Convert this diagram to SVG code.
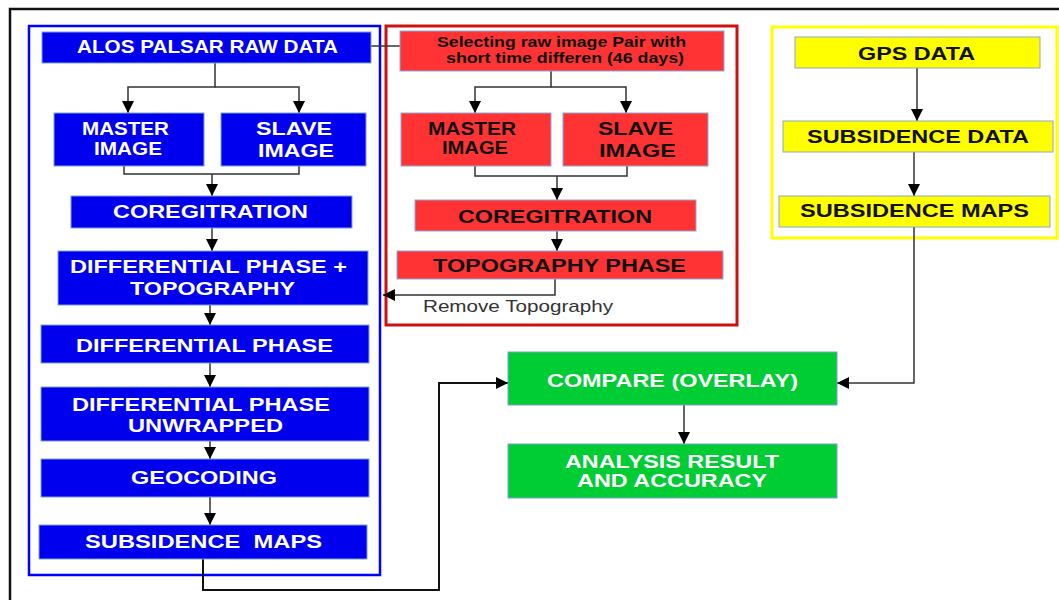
<svg xmlns="http://www.w3.org/2000/svg" width="1059" height="600" viewBox="0 0 1059 600">
<style>
.t{font-family:"Liberation Sans",Arial,sans-serif;font-weight:bold;font-size:18px}
.w{fill:#ffffff}
.k{fill:#111111}
.b{fill:#0000ee;stroke:#7f9fd8;stroke-width:1}
.r{fill:#ff3333;stroke:#8fa8d8;stroke-width:1}
.y{fill:#ffff00;stroke:#8fa8c8;stroke-width:1}
.g{fill:#00cc33;stroke:#7f9fd8;stroke-width:1}
.c{fill:none;stroke:#333333;stroke-width:1.5}
.a{marker-end:url(#ah)}
</style>
<defs>
<marker id="ah" markerUnits="userSpaceOnUse" markerWidth="12" markerHeight="12" refX="12" refY="6" orient="auto">
<path d="M0,0 L12,6 L0,12 z" fill="#000"/>
</marker>
</defs>
<rect x="0" y="0" width="1059" height="600" fill="#ffffff"/>
<rect x="10" y="9" width="1070" height="620" fill="none" stroke="#111" stroke-width="2.5"/>
<g id="blue-group"><rect x="29" y="26" width="351" height="549" fill="none" stroke="#0000ff" stroke-width="2.5"/></g>
<g id="red-group"><rect x="386" y="26" width="351" height="299" fill="none" stroke="#cc1111" stroke-width="3"/></g>
<g id="yellow-group"><rect x="772" y="27" width="285" height="211" fill="none" stroke="#ffff00" stroke-width="3"/></g>

<g id="connectors">
<path class="c" d="M371,46 H400"/>
<path class="c a" d="M215,63 V87 H128 V113"/>
<path class="c a" d="M215,87 H299 V113"/>
<path class="c" d="M124,166 V174 H299 V166"/>
<path class="c a" d="M212,174 V196"/>
<path class="c a" d="M212,228 V251"/>
<path class="c a" d="M210,305 V325"/>
<path class="c a" d="M210,363 V387"/>
<path class="c a" d="M210,441 V459"/>
<path class="c a" d="M210,497 V525"/>
<path class="c a" d="M203,559 V590 H439 V383 H508" style="stroke:#111;stroke-width:2"/>
<path class="c a" d="M551,71 V87 H475 V113"/>
<path class="c a" d="M551,87 H626 V113"/>
<path class="c" d="M475,166 V176 H627 V166"/>
<path class="c a" d="M557,176 V200"/>
<path class="c a" d="M557,231 V251"/>
<path class="c a" d="M555,279 V295 H383"/>
<path class="c a" d="M917,68 V121"/>
<path class="c a" d="M914,152 V196"/>
<path class="c a" d="M914,227 V383 H837"/>
<path class="c a" d="M684,405 V444"/>
</g>
<text x="423" y="312" font-family="Liberation Sans,Arial,sans-serif" font-size="17" fill="#333" textLength="190" lengthAdjust="spacingAndGlyphs">Remove Topography</text>

<g id="alos"><rect class="b" x="42" y="32" width="329" height="31"/><text class="t w" x="77" y="53" textLength="261" lengthAdjust="spacingAndGlyphs">ALOS PALSAR RAW DATA</text></g>
<g id="b-master"><rect class="b" x="54" y="113" width="150" height="53"/><text class="t w" x="82" y="135" textLength="87" lengthAdjust="spacingAndGlyphs">MASTER</text><text class="t w" x="94" y="155" textLength="68" lengthAdjust="spacingAndGlyphs">IMAGE</text></g>
<g id="b-slave"><rect class="b" x="221" y="113" width="145" height="53"/><text class="t w" x="256" y="135" textLength="76" lengthAdjust="spacingAndGlyphs">SLAVE</text><text class="t w" x="258" y="157" textLength="76" lengthAdjust="spacingAndGlyphs">IMAGE</text></g>
<g id="b-coreg"><rect class="b" x="71" y="196" width="281" height="32"/><text class="t w" x="113" y="218" textLength="195" lengthAdjust="spacingAndGlyphs">COREGITRATION</text></g>
<g id="b-diffphtopo"><rect class="b" x="58" y="251" width="310" height="54"/><text class="t w" x="70" y="273" textLength="277" lengthAdjust="spacingAndGlyphs">DIFFERENTIAL PHASE +</text><text class="t w" x="130" y="295" textLength="165" lengthAdjust="spacingAndGlyphs">TOPOGRAPHY</text></g>
<g id="b-diffph"><rect class="b" x="41" y="325" width="328" height="38"/><text class="t w" x="76" y="352" textLength="257" lengthAdjust="spacingAndGlyphs">DIFFERENTIAL PHASE</text></g>
<g id="b-unwrapped"><rect class="b" x="41" y="387" width="328" height="54"/><text class="t w" x="72" y="411" textLength="258" lengthAdjust="spacingAndGlyphs">DIFFERENTIAL PHASE</text><text class="t w" x="128" y="432" textLength="155" lengthAdjust="spacingAndGlyphs">UNWRAPPED</text></g>
<g id="b-geocoding"><rect class="b" x="41" y="459" width="328" height="38"/><text class="t w" x="131" y="484" textLength="146" lengthAdjust="spacingAndGlyphs">GEOCODING</text></g>
<g id="b-submaps"><rect class="b" x="39" y="525" width="328" height="34"/><text class="t w" x="85" y="548" textLength="237" lengthAdjust="spacingAndGlyphs" xml:space="preserve">SUBSIDENCE  MAPS</text></g>

<g id="selecting"><rect class="r" x="400" y="31" width="324" height="40"/><text class="t k" style="font-size:14px" x="437" y="47" textLength="249" lengthAdjust="spacingAndGlyphs">Selecting raw image Pair with</text><text class="t k" style="font-size:14px" x="446" y="63" textLength="238" lengthAdjust="spacingAndGlyphs">short time differen (46 days)</text></g>
<g id="r-master"><rect class="r" x="401" y="113" width="150" height="53"/><text class="t k" x="428" y="135" textLength="88" lengthAdjust="spacingAndGlyphs">MASTER</text><text class="t k" x="442" y="154" textLength="66" lengthAdjust="spacingAndGlyphs">IMAGE</text></g>
<g id="r-slave"><rect class="r" x="563" y="113" width="145" height="53"/><text class="t k" x="598" y="135" textLength="75" lengthAdjust="spacingAndGlyphs">SLAVE</text><text class="t k" x="599" y="157" textLength="77" lengthAdjust="spacingAndGlyphs">IMAGE</text></g>
<g id="r-coreg"><rect class="r" x="415" y="200" width="281" height="31"/><text class="t k" x="458" y="223" textLength="194" lengthAdjust="spacingAndGlyphs">COREGITRATION</text></g>
<g id="r-topo"><rect class="r" x="397" y="251" width="326" height="28"/><text class="t k" x="433" y="272" textLength="253" lengthAdjust="spacingAndGlyphs">TOPOGRAPHY PHASE</text></g>

<g id="gps"><rect class="y" x="795" y="37" width="245" height="31"/><text class="t k" x="858" y="60" textLength="117" lengthAdjust="spacingAndGlyphs">GPS DATA</text></g>
<g id="subdata"><rect class="y" x="783" y="121" width="270" height="31"/><text class="t k" x="807" y="143" textLength="222" lengthAdjust="spacingAndGlyphs">SUBSIDENCE DATA</text></g>
<g id="y-submaps"><rect class="y" x="779" y="196" width="271" height="31"/><text class="t k" x="800" y="217" textLength="229" lengthAdjust="spacingAndGlyphs">SUBSIDENCE MAPS</text></g>

<g id="compare"><rect class="g" x="508" y="352" width="329" height="53"/><text class="t w" x="547" y="387" textLength="251" lengthAdjust="spacingAndGlyphs">COMPARE (OVERLAY)</text></g>
<g id="analysis"><rect class="g" x="508" y="444" width="329" height="54"/><text class="t w" x="565" y="468" textLength="214" lengthAdjust="spacingAndGlyphs">ANALYSIS RESULT</text><text class="t w" x="577" y="487" textLength="190" lengthAdjust="spacingAndGlyphs">AND ACCURACY</text></g>
</svg>
